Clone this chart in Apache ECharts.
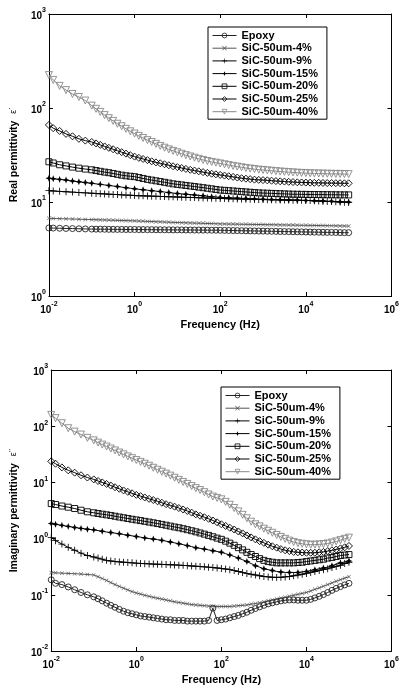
<!DOCTYPE html>
<html>
<head>
    <meta charset="utf-8">
    <title>SiC epoxy permittivity</title>
    <script src="https://cdn.jsdelivr.net/npm/echarts@6/dist/echarts.min.js"></script>
    <style>
        html, body { margin: 0; padding: 0; background: #fff; }
        #chart { width: 402px; height: 686px; }
    </style>
</head>
<body>
<div id="chart"></div>
<script>
// frequency (Hz), shared by every curve
var freq = [0.01, 0.0126, 0.0178, 0.0251, 0.0355, 0.0501, 0.0708,
    0.1, 0.126, 0.158, 0.2, 0.251, 0.316, 0.398, 0.501, 0.631, 0.794,
    1, 1.26, 1.58, 2, 2.51, 3.16, 3.98, 5.01, 6.31, 7.94,
    10, 12.6, 15.8, 20, 25.1, 31.6, 39.8, 50.1, 63.1, 79.4,
    100, 126, 158, 200, 251, 316, 398, 501, 631, 794,
    1000, 1260, 1580, 2000, 2510, 3160, 3980, 5010, 6310, 7940,
    10000, 12600, 15800, 20000, 25100, 31600, 39800, 50100, 63100, 79400,
    100000];

var names = ['Epoxy', 'SiC-50um-4%', 'SiC-50um-9%', 'SiC-50um-15%', 'SiC-50um-20%', 'SiC-50um-25%', 'SiC-50um-40%'];

// real permittivity
var reEpoxy = [5.30, 5.28, 5.255, 5.23, 5.215, 5.19, 5.17,
    5.15, 5.14, 5.14, 5.13, 5.12, 5.12, 5.11, 5.11, 5.10, 5.10,
    5.10, 5.09, 5.09, 5.08, 5.08, 5.07, 5.07, 5.06, 5.06, 5.05,
    5.05, 5.05, 5.04, 5.04, 5.03, 5.03, 5.02, 5.02, 5.01, 5.01,
    5.00, 4.99, 4.98, 4.97, 4.96, 4.95, 4.94, 4.93, 4.92, 4.91,
    4.90, 4.89, 4.88, 4.87, 4.86, 4.85, 4.84, 4.83, 4.82, 4.81,
    4.80, 4.79, 4.78, 4.77, 4.76, 4.75, 4.75, 4.74, 4.73, 4.72,
    4.72];
var reSiC4 = [6.70, 6.68, 6.65, 6.62, 6.59, 6.56, 6.53,
    6.50, 6.48, 6.46, 6.44, 6.42, 6.40, 6.38, 6.36, 6.34, 6.32,
    6.30, 6.27, 6.25, 6.22, 6.20, 6.17, 6.15, 6.12, 6.10, 6.07,
    6.05, 6.03, 6.01, 5.99, 5.97, 5.95, 5.93, 5.91, 5.89, 5.87,
    5.85, 5.84, 5.83, 5.82, 5.81, 5.80, 5.79, 5.78, 5.77, 5.76,
    5.75, 5.74, 5.73, 5.72, 5.71, 5.70, 5.69, 5.68, 5.67, 5.66,
    5.65, 5.64, 5.63, 5.62, 5.61, 5.60, 5.59, 5.58, 5.57, 5.56,
    5.55];
var reSiC9 = [13.2, 13.1, 12.98, 12.85, 12.75, 12.6, 12.5,
    12.4, 12.3, 12.25, 12.2, 12.1, 12.05, 12.0, 11.9, 11.85, 11.8,
    11.7, 11.66, 11.62, 11.58, 11.54, 11.5, 11.46, 11.42, 11.38, 11.34,
    11.3, 11.26, 11.22, 11.18, 11.14, 11.1, 11.06, 11.02, 10.98, 10.94,
    10.9, 10.87, 10.84, 10.81, 10.78, 10.75, 10.72, 10.69, 10.66, 10.63,
    10.6, 10.58, 10.56, 10.54, 10.52, 10.5, 10.48, 10.46, 10.44, 10.42,
    10.4, 10.35, 10.3, 10.25, 10.2, 10.15, 10.1, 10.05, 10.0, 9.95,
    9.9];
var reSiC15 = [17.9, 17.7, 17.4, 17.1, 16.7, 16.4, 16.1,
    15.8, 15.6, 15.4, 15.2, 15.0, 14.8, 14.6, 14.4, 14.2, 14.0,
    13.8, 13.65, 13.5, 13.35, 13.2, 13.05, 12.9, 12.75, 12.6, 12.45,
    12.3, 12.2, 12.1, 12.0, 11.9, 11.75, 11.65, 11.5, 11.4, 11.3,
    11.2, 11.15, 11.1, 11.05, 11.0, 10.95, 10.9, 10.85, 10.8, 10.75,
    10.7, 10.67, 10.64, 10.61, 10.58, 10.55, 10.52, 10.49, 10.46, 10.43,
    10.4, 10.36, 10.32, 10.28, 10.24, 10.2, 10.16, 10.12, 10.08, 10.04,
    10.0];
var reSiC20 = [26.8, 26.0, 24.9, 24.2, 23.5, 22.9, 22.4,
    22.0, 21.6, 21.2, 20.8, 20.5, 20.1, 19.7, 19.3, 19.0, 18.8,
    18.6, 18.2, 17.8, 17.4, 17.1, 16.8, 16.5, 16.2, 15.9, 15.6,
    15.4, 15.2, 15.0, 14.8, 14.6, 14.4, 14.2, 14.0, 13.8, 13.6,
    13.4, 13.3, 13.2, 13.1, 13.0, 12.9, 12.8, 12.7, 12.6, 12.5,
    12.45, 12.4, 12.35, 12.3, 12.25, 12.2, 12.15, 12.1, 12.08, 12.06,
    12.04, 12.02, 12.0, 11.99, 11.98, 11.96, 11.95, 11.93, 11.92, 11.91,
    11.9];
var reSiC25 = [66, 61, 57, 53, 50, 47, 45,
    43.5, 42, 40.5, 39, 37.7, 36.4, 35.1, 33.9, 32.7, 31.5,
    30.4, 29.5, 28.7, 27.9, 27.1, 26.4, 25.8, 25.2, 24.6, 24.0,
    23.5, 23.0, 22.5, 22.0, 21.6, 21.2, 20.8, 20.4, 20.0, 19.7,
    19.4, 19.1, 18.8, 18.5, 18.2, 17.9, 17.7, 17.5, 17.3, 17.2,
    17.1, 17.0, 16.85, 16.7, 16.6, 16.5, 16.4, 16.3, 16.2, 16.15,
    16.1, 16.05, 16.0, 16.0, 15.95, 15.9, 15.9, 15.85, 15.85, 15.8,
    15.8];
var reSiC40 = [224, 199, 172, 155, 141, 131, 120,
    106, 98, 91, 84, 78, 73, 68, 64, 60, 56.5,
    53.5, 50.5, 48, 45.5, 43.5, 41.5, 39.5, 37.8, 36.3, 35,
    33.8, 32.6, 31.5, 30.5, 29.6, 28.8, 28.0, 27.3, 26.7, 26.2,
    25.7, 25.2, 24.7, 24.2, 23.8, 23.4, 23.0, 22.7, 22.4, 22.1,
    21.9, 21.7, 21.5, 21.3, 21.1, 20.95, 20.8, 20.65, 20.5, 20.4,
    20.3, 20.2, 20.15, 20.1, 20.05, 20.0, 19.95, 19.9, 19.9, 19.85,
    19.8];

// imaginary permittivity
var imEpoxy = [0.185, 0.16, 0.152, 0.138, 0.123, 0.11, 0.1,
    0.092, 0.085, 0.078, 0.071, 0.065, 0.06, 0.055, 0.051, 0.048, 0.046,
    0.044, 0.042, 0.041, 0.04, 0.039, 0.038, 0.037, 0.036, 0.036, 0.035,
    0.035, 0.035, 0.034, 0.034, 0.034, 0.034, 0.034, 0.035, 0.058, 0.035,
    0.036, 0.037, 0.039, 0.041, 0.043, 0.046, 0.049, 0.053, 0.057, 0.061,
    0.065, 0.069, 0.072, 0.075, 0.078, 0.08, 0.081, 0.081, 0.08, 0.08,
    0.08, 0.083, 0.088, 0.094, 0.101, 0.11, 0.12, 0.13, 0.14, 0.15,
    0.16];
var imSiC4 = [0.248, 0.246, 0.243, 0.24, 0.237, 0.234, 0.23,
    0.225, 0.21, 0.195, 0.18, 0.165, 0.152, 0.141, 0.131, 0.122, 0.114,
    0.108, 0.103, 0.098, 0.094, 0.09, 0.087, 0.084, 0.081, 0.078, 0.075,
    0.073, 0.071, 0.069, 0.067, 0.066, 0.065, 0.064, 0.063, 0.062, 0.062,
    0.062, 0.062, 0.062, 0.063, 0.064, 0.065, 0.066, 0.068, 0.07, 0.072,
    0.075, 0.078, 0.081, 0.084, 0.087, 0.09, 0.094, 0.098, 0.102, 0.106,
    0.11, 0.117, 0.125, 0.133, 0.142, 0.152, 0.163, 0.174, 0.186, 0.198,
    0.21];
var imSiC9 = [1.04, 0.92, 0.8, 0.7, 0.62, 0.55, 0.5,
    0.47, 0.45, 0.43, 0.41, 0.4, 0.39, 0.385, 0.38, 0.375, 0.37,
    0.365, 0.36, 0.358, 0.355, 0.352, 0.35, 0.348, 0.345, 0.342, 0.34,
    0.337, 0.334, 0.33, 0.326, 0.322, 0.318, 0.314, 0.31, 0.305, 0.3,
    0.295, 0.288, 0.28, 0.27, 0.26, 0.25, 0.24, 0.232, 0.225, 0.218,
    0.212, 0.208, 0.205, 0.204, 0.205, 0.208, 0.212, 0.218, 0.225, 0.232,
    0.24, 0.25, 0.26, 0.27, 0.28, 0.29, 0.305, 0.32, 0.335, 0.36,
    0.38];
var imSiC15 = [1.86, 1.8, 1.72, 1.65, 1.58, 1.52, 1.47,
    1.43, 1.39, 1.35, 1.31, 1.28, 1.25, 1.22, 1.18, 1.15, 1.12,
    1.09, 1.06, 1.03, 1.0, 0.98, 0.96, 0.93, 0.9, 0.87, 0.84,
    0.81, 0.78, 0.75, 0.72, 0.69, 0.67, 0.65, 0.63, 0.61, 0.59,
    0.57, 0.54, 0.51, 0.48, 0.45, 0.42, 0.39, 0.36, 0.33, 0.31,
    0.29, 0.28, 0.27, 0.26, 0.255, 0.25, 0.25, 0.25, 0.25, 0.255,
    0.26, 0.27, 0.28, 0.29, 0.3, 0.31, 0.33, 0.35, 0.37, 0.385,
    0.4];
var imSiC20 = [4.2, 4.04, 3.8, 3.62, 3.43, 3.2, 3.0,
    2.88, 2.8, 2.72, 2.65, 2.58, 2.5, 2.42, 2.35, 2.28, 2.21,
    2.15, 2.09, 2.03, 1.97, 1.91, 1.85, 1.79, 1.73, 1.67, 1.61,
    1.56, 1.5, 1.44, 1.38, 1.32, 1.26, 1.2, 1.14, 1.08, 1.02,
    0.97, 0.9, 0.83, 0.76, 0.69, 0.63, 0.57, 0.52, 0.48, 0.44,
    0.41, 0.39, 0.38, 0.37, 0.37, 0.37, 0.37, 0.37, 0.375, 0.38,
    0.39, 0.4, 0.41, 0.42, 0.43, 0.45, 0.46, 0.48, 0.5, 0.51,
    0.52];
var imSiC25 = [23.7, 21.5, 18.5, 16.4, 14.9, 13.4, 12.2,
    11.3, 10.6, 10.0, 9.4, 8.8, 8.2, 7.7, 7.2, 6.8, 6.4,
    6.0, 5.7, 5.4, 5.1, 4.85, 4.6, 4.35, 4.1, 3.9, 3.7,
    3.5, 3.3, 3.1, 2.9, 2.7, 2.55, 2.4, 2.25, 2.1, 1.95,
    1.8, 1.68, 1.56, 1.45, 1.34, 1.24, 1.14, 1.05, 0.97, 0.9,
    0.84, 0.78, 0.73, 0.69, 0.65, 0.62, 0.6, 0.58, 0.57, 0.565,
    0.56, 0.56, 0.56, 0.57, 0.58, 0.6, 0.62, 0.64, 0.67, 0.7,
    0.74];
var imSiC40 = [159, 139, 113, 92, 80, 71, 62,
    56, 51, 47, 43.5, 40, 37, 34, 31.5, 29, 27,
    25, 23.2, 21.5, 19.8, 18.2, 16.8, 15.5, 14.3, 13.2, 12.1,
    11.1, 10.2, 9.4, 8.6, 7.9, 7.3, 6.7, 6.1, 5.6, 5.3,
    5.0, 4.5, 4.0, 3.5, 3.05, 2.65, 2.3, 2.0, 1.8, 1.65,
    1.5, 1.38, 1.27, 1.16, 1.07, 0.99, 0.92, 0.87, 0.83, 0.81,
    0.79, 0.78, 0.78, 0.79, 0.8, 0.82, 0.85, 0.89, 0.94, 0.99,
    1.04];

var reData = [reEpoxy, reSiC4, reSiC9, reSiC15, reSiC20, reSiC25, reSiC40];
var imData = [imEpoxy, imSiC4, imSiC9, imSiC15, imSiC20, imSiC25, imSiC40];

// marker styles, one per sample
var xPath = 'path://M0,0.9L0.9,0L5,4.1L9.1,0L10,0.9L5.9,5L10,9.1L9.1,10L5,5.9L0.9,10L0,9.1L4.1,5Z';
var plusPath = 'path://M0,4.4H10V5.6H0Z M4.4,0H5.6V10H4.4Z';
var starPath = 'path://M5,0L6.4,3.6L10,5L6.4,6.4L5,10L3.6,6.4L0,5L3.6,3.6Z';
var marks = [
    {symbol: 'circle', size: 6, color: '#222', hollow: true},
    {symbol: xPath, size: 4, color: '#555'},
    {symbol: plusPath, size: 7, color: '#000'},
    {symbol: starPath, size: 7, color: '#000', sparse: true},
    {symbol: 'rect', size: 6, color: '#000', hollow: true},
    {symbol: 'diamond', size: 7, color: '#000', hollow: true},
    {symbol: 'triangle', size: 7, color: '#888', hollow: true, rotate: 180}
];

var font = 'Liberation Sans, Arial, sans-serif';

function supLabel(v) {
    var e = Math.round(Math.log(v) / Math.LN10);
    return '{b|10}{s|' + e + '}';
}
var labelRich = {
    b: {fontSize: 10, fontWeight: 'bold', fontFamily: font, color: '#000', lineHeight: 14, verticalAlign: 'bottom'},
    s: {fontSize: 7, fontWeight: 'bold', fontFamily: font, color: '#000', lineHeight: 14, verticalAlign: 'top'}
};

function xAxes(grid) {
    var base = {
        type: 'log', logBase: 10, min: 0.01, max: 1000000, interval: 2, gridIndex: grid,
        axisLine: {show: true, lineStyle: {color: '#000', width: 1}},
        axisTick: {show: true, inside: true, length: 4, lineStyle: {color: '#000'}},
        splitLine: {show: false}
    };
    return [
        Object.assign({}, base, {
            position: 'bottom',
            axisLabel: {formatter: supLabel, rich: labelRich, margin: 5},
            name: 'Frequency (Hz)', nameLocation: 'middle', nameGap: 23,
            nameTextStyle: {fontSize: 11, fontWeight: 'bold', fontFamily: font, color: '#000'}
        }),
        Object.assign({}, base, {position: 'top', axisLabel: {show: false}})
    ];
}

function yAxes(grid, min, name) {
    var base = {
        type: 'log', logBase: 10, min: min, max: 1000, interval: 1, gridIndex: grid,
        axisLine: {show: true, lineStyle: {color: '#000', width: 1}},
        axisTick: {show: true, inside: true, length: 4, lineStyle: {color: '#000'}},
        splitLine: {show: false}
    };
    return [
        Object.assign({}, base, {
            position: 'left',
            axisLabel: {formatter: supLabel, rich: labelRich, margin: 3},
            name: name, nameLocation: 'middle', nameGap: 23,
            nameTextStyle: {
                rich: {
                    t: {fontSize: 10.5, fontWeight: 'bold', fontFamily: font, color: '#000'},
                    e: {fontSize: 8, fontFamily: 'DejaVu Sans, sans-serif', color: '#000'}
                }
            }
        }),
        Object.assign({}, base, {position: 'right', axisLabel: {show: false}})
    ];
}

function makeSeries(grid, arrays) {
    return names.map(function (n, k) {
        var m = marks[k];
        return {
            name: n,
            type: 'line',
            xAxisIndex: grid * 2,
            yAxisIndex: grid * 2,
            data: freq.map(function (f, i) { return [f, arrays[k][i]]; }),
            symbol: m.symbol,
            symbolRotate: m.rotate || 0,
            symbolSize: m.sparse ? function (v, p) {
                return (p.dataIndex < 7 || p.dataIndex % 2 === 1) ? m.size : 0;
            } : m.size,
            showAllSymbol: true,
            lineStyle: {color: m.color, width: 1},
            itemStyle: m.hollow
                ? {color: 'rgba(255,255,255,0)', borderColor: m.color, borderWidth: 0.9}
                : {color: m.color},
            emphasis: {disabled: true}
        };
    });
}

function legendAt(left, top) {
    return {
        data: names,
        orient: 'vertical',
        left: left, top: top,
        itemWidth: 24, itemHeight: 6, itemGap: 1.7,
        padding: [3, 9, 2, 4],
        backgroundColor: '#fff',
        borderColor: '#000', borderWidth: 1,
        lineStyle: {width: 1},
        itemStyle: {borderWidth: 0.8},
        textStyle: {fontSize: 11, fontWeight: 'bold', fontFamily: font, color: '#000', lineHeight: 11},
        selectedMode: false
    };
}

var chart = echarts.init(document.getElementById('chart'), null, {renderer: 'canvas'});
var option = {
    backgroundColor: '#fff',
    animation: false,
    grid: [
        {left: 38, right: 8, top: 14, height: 282},
        {left: 38, right: 8, top: 370, height: 282}
    ],
    xAxis: xAxes(0).concat(xAxes(1)),
    yAxis: yAxes(0, 1, '{t|Real permittivity}  {e|ε′}').concat(yAxes(1, 0.01, '{t|Imaginary permittivity}  {e|ε′′}')),
    legend: [legendAt(208, 27), legendAt(221, 387)],
    series: makeSeries(0, reData).concat(makeSeries(1, imData))
};
chart.setOption(option);

window.onresize = function () {
    chart.resize();
};
</script>
</body>
</html>
